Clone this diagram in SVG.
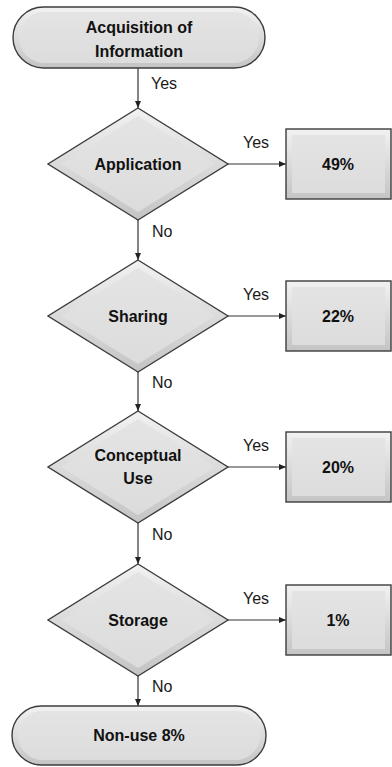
<svg xmlns="http://www.w3.org/2000/svg" width="392" height="767" viewBox="0 0 392 767">
<defs>
<linearGradient id="g" x1="0" y1="0" x2="0" y2="1">
<stop offset="0" stop-color="#f2f2f2"/>
<stop offset="1" stop-color="#c4c4c4"/>
</linearGradient>
<linearGradient id="gi" x1="0" y1="0" x2="0" y2="1">
<stop offset="0" stop-color="#e4e4e4"/>
<stop offset="1" stop-color="#dcdcdc"/>
</linearGradient>
<marker id="ah" markerWidth="7" markerHeight="6" refX="7" refY="3" orient="auto" markerUnits="userSpaceOnUse">
<path d="M0,0 L7,3 L0,6 Z" fill="#222"/>
</marker>
</defs>
<style>
.sh{fill:url(#g);stroke:#3c3c3c;stroke-width:1.4}
.in{fill:url(#gi);stroke:none}
.t{font-family:"Liberation Sans",Arial,sans-serif;font-weight:bold;font-size:16px;fill:#111;text-anchor:middle}
.l{font-family:"Liberation Sans",Arial,sans-serif;font-size:16px;fill:#1a1a1a}
.c{stroke:#333;stroke-width:1.2;fill:none;marker-end:url(#ah)}
</style>
<rect width="392" height="767" fill="#fff"/>
<g id="connectors">
<line class="c" x1="138" y1="68" x2="138" y2="108"/>
<line class="c" x1="138" y1="220" x2="138" y2="260"/>
<line class="c" x1="138" y1="372" x2="138" y2="411"/>
<line class="c" x1="138" y1="523" x2="138" y2="564"/>
<line class="c" x1="138" y1="676" x2="138" y2="706"/>
<line class="c" x1="228" y1="164" x2="286" y2="164"/>
<line class="c" x1="228" y1="316" x2="286" y2="316"/>
<line class="c" x1="228" y1="467" x2="286" y2="467"/>
<line class="c" x1="228" y1="620" x2="286" y2="620"/>
<text class="l" x="151" y="89">Yes</text>
<text class="l" x="152" y="237">No</text>
<text class="l" x="152" y="388">No</text>
<text class="l" x="152" y="540">No</text>
<text class="l" x="152" y="692">No</text>
<text class="l" x="243" y="148">Yes</text>
<text class="l" x="243" y="300">Yes</text>
<text class="l" x="243" y="451">Yes</text>
<text class="l" x="243" y="604">Yes</text>
</g>
<g id="start">
<rect class="sh" x="13" y="7" width="252" height="61" rx="30.5"/>
<rect class="in" x="19" y="12" width="240" height="51" rx="25.5"/>
<text class="t" x="139" y="33">Acquisition of</text>
<text class="t" x="139" y="57">Information</text>
</g>
<g id="application">
<polygon class="sh" points="138,108 228,164 138,220 48,164"/>
<polygon class="in" points="138,116 215,164 138,212 61,164"/>
<text class="t" x="138" y="170">Application</text>
</g>
<g id="sharing">
<polygon class="sh" points="138,260 228,316 138,372 48,316"/>
<polygon class="in" points="138,268 215,316 138,364 61,316"/>
<text class="t" x="138" y="322">Sharing</text>
</g>
<g id="conceptual">
<polygon class="sh" points="138,411 228,467 138,523 48,467"/>
<polygon class="in" points="138,419 215,467 138,515 61,467"/>
<text class="t" x="138" y="461">Conceptual</text>
<text class="t" x="138" y="484">Use</text>
</g>
<g id="storage">
<polygon class="sh" points="138,564 228,620 138,676 48,620"/>
<polygon class="in" points="138,572 215,620 138,668 61,620"/>
<text class="t" x="138" y="626">Storage</text>
</g>
<g id="r49">
<rect class="sh" x="286" y="129" width="105" height="70"/>
<rect class="in" x="292" y="135" width="93" height="58"/>
<text class="t" x="338" y="170">49%</text>
</g>
<g id="r22">
<rect class="sh" x="286" y="281" width="105" height="70"/>
<rect class="in" x="292" y="287" width="93" height="58"/>
<text class="t" x="338" y="322">22%</text>
</g>
<g id="r20">
<rect class="sh" x="286" y="432" width="105" height="70"/>
<rect class="in" x="292" y="438" width="93" height="58"/>
<text class="t" x="338" y="473">20%</text>
</g>
<g id="r1">
<rect class="sh" x="286" y="585" width="105" height="70"/>
<rect class="in" x="292" y="591" width="93" height="58"/>
<text class="t" x="338" y="626">1%</text>
</g>
<g id="nonuse">
<rect class="sh" x="12" y="706" width="254" height="59" rx="29.5"/>
<rect class="in" x="18" y="711" width="242" height="49" rx="24.5"/>
<text class="t" x="139" y="741">Non-use 8%</text>
</g>
</svg>
